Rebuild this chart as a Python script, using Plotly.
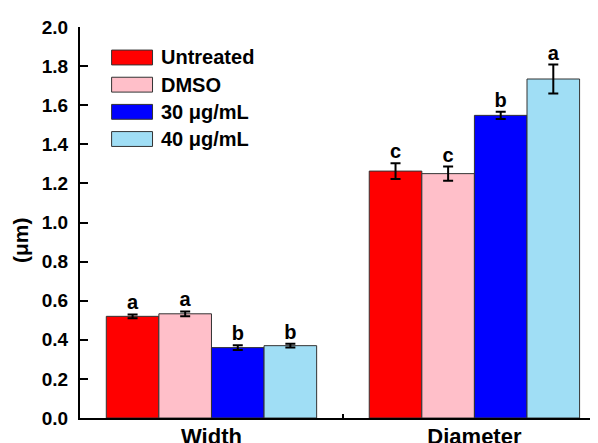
import plotly.graph_objects as go

categories = ["Width", "Diameter"]
series_names = ["Untreated", "DMSO", "30 μg/mL", "40 μg/mL"]
colors = ["#FF0000", "#FFBFC9", "#0000FF", "#A0DEF5"]
values = [
    [0.520, 1.263],
    [0.533, 1.250],
    [0.360, 1.548],
    [0.370, 1.734],
]
errors = [
    [0.010, 0.040],
    [0.012, 0.036],
    [0.012, 0.018],
    [0.010, 0.074],
]
letters = [
    ["a", "c"],
    ["a", "c"],
    ["b", "b"],
    ["b", "a"],
]
y_ticks = [0.0, 0.2, 0.4, 0.6, 0.8, 1.0, 1.2, 1.4, 1.6, 1.8, 2.0]

FONT = "Liberation Sans"
fig = go.Figure()
for i, name in enumerate(series_names):
    fig.add_trace(go.Bar(
        x=categories, y=values[i], name=name, offsetgroup=str(i),
        marker=dict(color=colors[i], line=dict(color="#333333", width=1)),
        error_y=dict(type="data", array=errors[i], color="black", thickness=2, width=5),
        showlegend=False,
    ))
for i, name in enumerate(series_names):
    fig.add_trace(go.Scatter(
        x=categories, y=[v + e for v, e in zip(values[i], errors[i])],
        mode="text", text=letters[i], textposition="top center", offsetgroup=str(i),
        textfont=dict(family=FONT, size=20, color="black", weight="bold"),
        showlegend=False, hoverinfo="skip",
    ))

# custom legend (wide swatches like the reference)
for i, name in enumerate(series_names):
    y0 = 0.922 - i * 0.0695
    fig.add_shape(type="rect", xref="paper", yref="paper",
                  x0=0.061, x1=0.140, y0=y0 - 0.019, y1=y0 + 0.019,
                  fillcolor=colors[i], line=dict(color="#333333", width=1))
    fig.add_annotation(xref="paper", yref="paper", x=0.153, y=y0, text=name,
                       showarrow=False, xanchor="left", yanchor="middle",
                       font=dict(family=FONT, size=20, color="black", weight="bold"))

# y-axis title
fig.add_annotation(xref="paper", yref="paper", x=0, y=0.455, xshift=-60,
                   text="(μm)", textangle=-90, showarrow=False,
                   xanchor="center", yanchor="middle",
                   font=dict(family=FONT, size=21, color="black", weight="bold"))

fig.update_layout(
    width=590, height=435,
    margin=dict(l=72, r=0, t=19, b=25),
    paper_bgcolor="white", plot_bgcolor="white",
    barmode="group", bargap=0.2, bargroupgap=0,
    scattermode="group", scattergap=0.2,
    font=dict(family=FONT, color="black"),
)
fig.update_xaxes(
    range=[-0.5, 1.47], showline=True, linecolor="black", linewidth=2,
    ticks="inside", tickson="boundaries", ticklen=4, tickwidth=2, tickcolor="black",
    tickfont=dict(family=FONT, size=22, weight="bold"), ticklabelstandoff=-2,
    showgrid=False, zeroline=False, automargin=False,
)
fig.update_yaxes(
    range=[0, 2.0], tickvals=y_ticks, ticktext=[f"{t:.1f}" for t in y_ticks],
    showline=True, linecolor="black", linewidth=2,
    ticks="inside", ticklen=8, tickwidth=2, tickcolor="black",
    tickfont=dict(family=FONT, size=19, weight="bold"), ticklabelstandoff=6,
    showgrid=False, zeroline=False, automargin=False,
)
fig.write_html("out.html")
